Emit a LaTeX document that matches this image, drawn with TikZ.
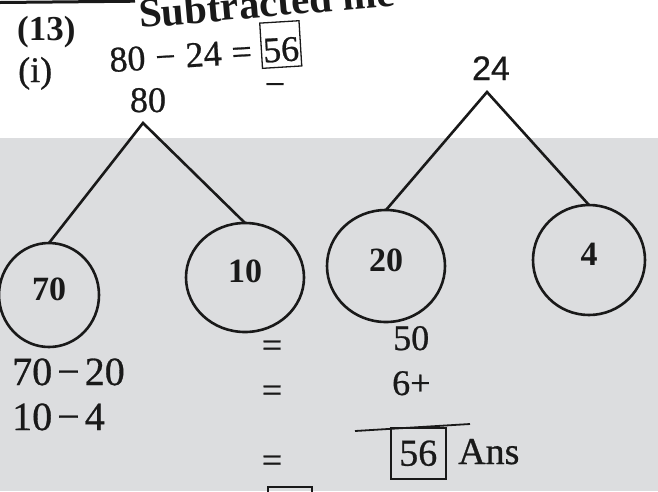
\documentclass[tikz,border=0pt]{standalone}
\usepackage{fontspec}
\setmainfont{Liberation Serif}
\newfontfamily\heavy{Liberation Serif}[FakeBold=0.7]
\newfontfamily\arialf{Liberation Sans}[FakeBold=0.5]
\usetikzlibrary{shapes.geometric}
\definecolor{paper}{RGB}{220,221,223}
\definecolor{ink}{RGB}{25,25,25}
\begin{document}
\begin{tikzpicture}[x=1pt,y=-1pt,
  txt/.style={inner sep=0, text=ink, font=\heavy\fontsize{36}{40}\selectfont},
  big/.style={inner sep=0, text=ink, font=\heavy\fontsize{40}{44}\selectfont},
  circ/.style={draw=ink, line width=2.6pt, ellipse, inner sep=0, outer sep=0,
    text depth=12pt, text=ink, font=\bfseries\fontsize{34}{38}\selectfont},
  edge/.style={draw=ink, line width=2.6pt}]
\useasboundingbox (0,0) rectangle (658,491);
\fill[white] (0,0) rectangle (658,491);
\fill[paper] (0,138) rectangle (658,491);
% top rule
\draw[ink, line width=3pt] (0,2.5) -- (135,1.2);
% heading
\node[anchor=base west, rotate=5, inner sep=0, text=ink,
  font=\bfseries\fontsize{41}{44}\selectfont] (title) at (140,28) {Subtracted me};
\node[anchor=base west, inner sep=0, text=ink,
  font=\bfseries\fontsize{35}{38}\selectfont] (n13) at (17,40) {(13)};
\node[txt, anchor=base west] (ni) at (18,82) {(i)};
\node[txt, anchor=base west, rotate=3.5] (eq) at (110,72)
  {\setlength{\fboxsep}{1pt}\setlength{\fboxrule}{1.3pt}%
   80\kern10pt−\kern10pt24\kern10pt=\kern9pt\fbox{\rule[-4pt]{0pt}{42pt}56}};
\node[txt, anchor=base] (minus) at (275,96) {−};
% trees
\node[txt, anchor=base] (n80) at (148,112) {80};
\node[anchor=base, inner sep=0, text=ink, font=\arialf\fontsize{34}{38}\selectfont] (n24) at (491,80) {24};
\coordinate (a80) at (143,123);
\coordinate (a24) at (487,92);
\node[circ, minimum width=100pt, minimum height=104pt] (c70) at (49,295) {70};
\node[circ, minimum width=118pt, minimum height=109pt] (c10) at (245,277.5) {10};
\node[circ, minimum width=118pt, minimum height=112pt] (c20) at (386,266) {20};
\node[circ, minimum width=112pt, minimum height=110pt] (c4) at (589,260) {4};
\draw[edge] (c70.north) -- (a80) -- (c10.north);
\draw[edge] (c20.north) -- (a24) -- (c4.north);
% working
\node[big, anchor=base west] (e1) at (12,385) {70\kern5pt−\kern5pt20};
\node[big, anchor=base west] (e2) at (12,430) {10\kern5pt−\kern5pt4};
\node[txt, anchor=base] (q1) at (272,357) {=};
\node[txt, anchor=base] (q2) at (272,402) {=};
\node[txt, anchor=base] (q3) at (272,472) {=};
\node[txt, anchor=base west] (v50) at (393,350) {50};
\node[txt, anchor=base west] (v6) at (392,395) {6+};
\coordinate (ol1) at (355,431);
\coordinate (ol2) at (470,424);
\draw[ink, line width=1.8pt] (ol1) -- (ol2);
\node[draw=ink, line width=1.5pt, minimum width=55pt, minimum height=51pt, inner sep=0,
  anchor=north west, text=ink, font=\heavy\fontsize{38}{42}\selectfont] (box56) at (390,427) {56};
\node[anchor=base west, inner sep=0, text=ink, font=\heavy\fontsize{38}{42}\selectfont] (ans) at (458,464) {Ans};
% partial box at bottom edge
\draw[ink, line width=1.8pt] (268,500) -- (268,487) -- (312,487) -- (312,500);
\end{tikzpicture}
\end{document}
